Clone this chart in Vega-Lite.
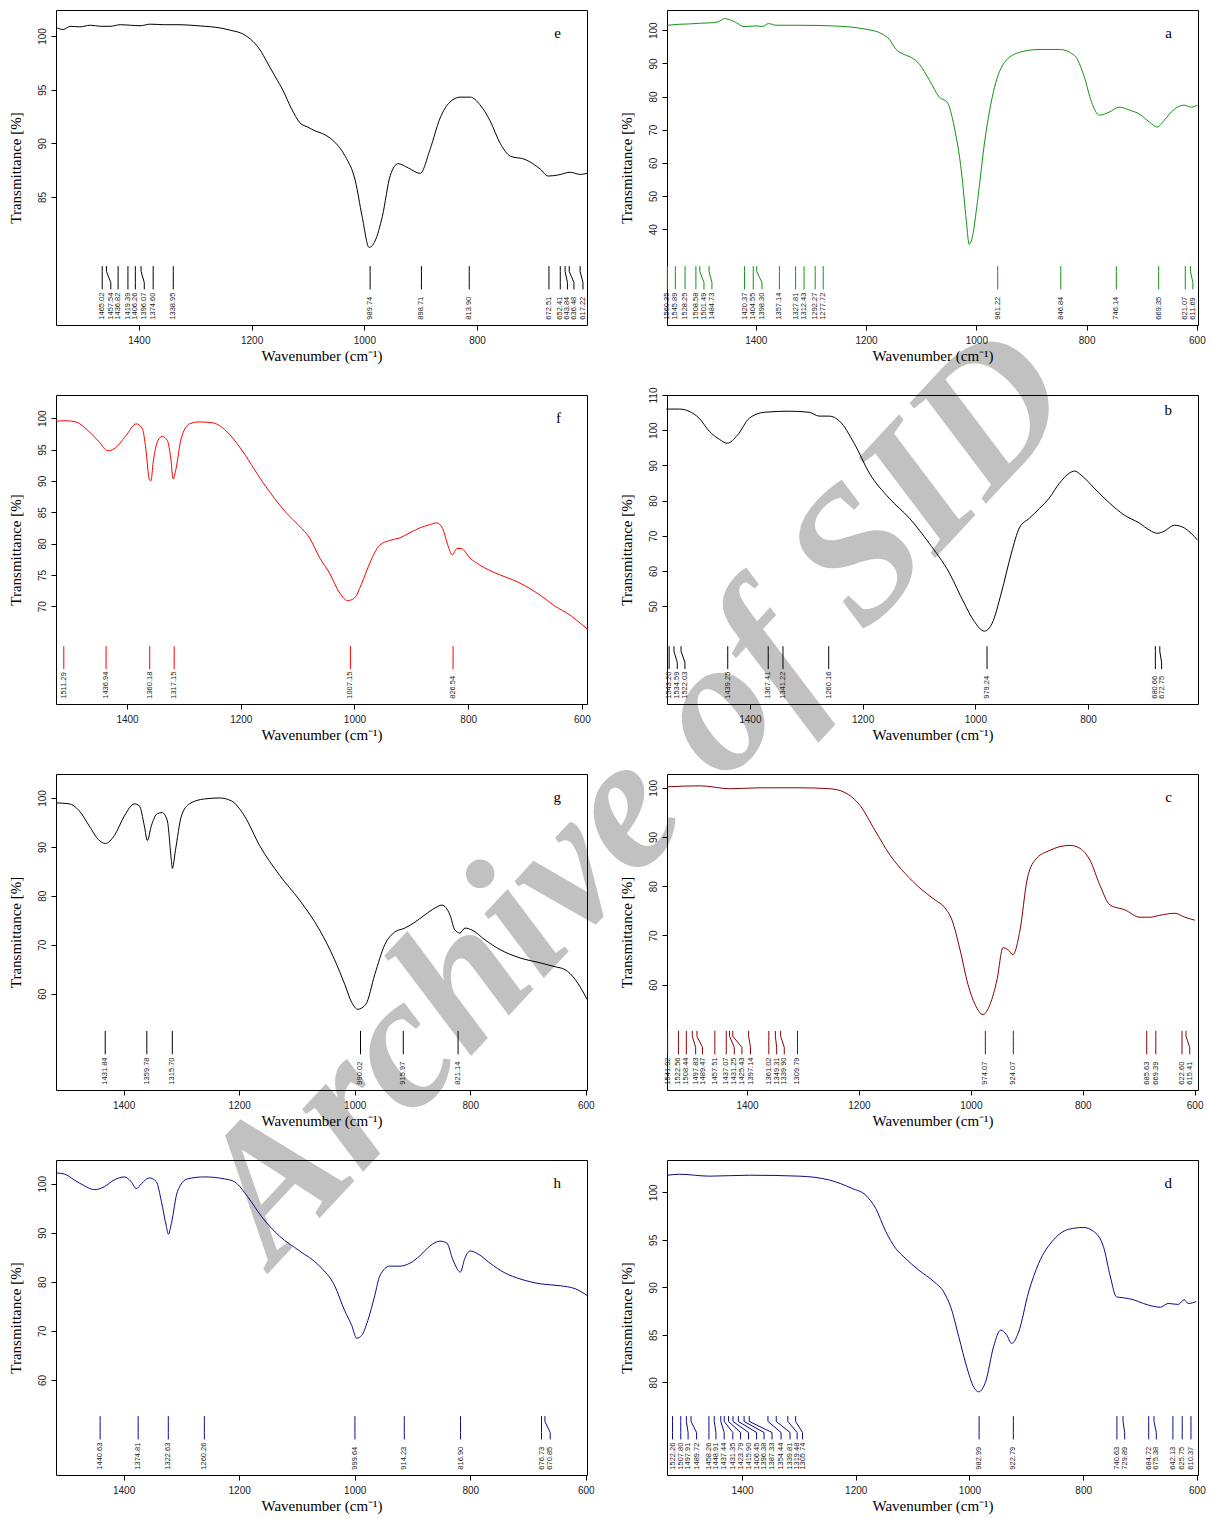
{
"$schema": "https://vega.github.io/schema/vega-lite/v6.json",
"background": "white",
"padding": {"left": 7, "top": 9, "right": 5, "bottom": 5},
"bounds": "flush",
"columns": 2,
"spacing": {"row": 70, "column": 80},
"config": {
 "view": {"stroke": "#000", "strokeWidth": 1},
 "axis": {"domain": false, "grid": false, "tickSize": 5, "tickColor": "#000", "labelFont": "Liberation Sans", "labelFontSize": 10, "labelColor": "#222", "labelFlush": false, "labelOverlap": false, "titleFont": "Liberation Serif", "titleFontSize": 15, "titleFontWeight": "normal", "titleColor": "#000"},
 "axisX": {"labelPadding": 5, "titlePadding": 3},
 "axisY": {"labelAngle": 270, "labelAlign": "center", "labelBaseline": "bottom", "labelPadding": 4, "titlePadding": 14},
 "line": {"interpolate": "monotone"},
 "title": {"anchor": "end", "frame": "group", "offset": -31, "dx": -26, "font": "Liberation Serif", "fontSize": 15, "fontWeight": "normal", "color": "#000"}
},
"datasets": {
 "e": [{"wn":1545,"T":100.75},{"wn":1534,"T":100.6},{"wn":1522,"T":100.9},{"wn":1505,"T":100.85},{"wn":1486,"T":101.0},{"wn":1468,"T":100.9},{"wn":1451,"T":100.9},{"wn":1433,"T":101.05},{"wn":1415,"T":101.0},{"wn":1398,"T":100.95},{"wn":1380,"T":101.1},{"wn":1355,"T":101.05},{"wn":1327,"T":101.05},{"wn":1291,"T":100.93},{"wn":1256,"T":100.75},{"wn":1235,"T":100.5},{"wn":1220,"T":100.3},{"wn":1202,"T":99.7},{"wn":1185,"T":98.7},{"wn":1173,"T":97.6},{"wn":1158,"T":96.2},{"wn":1144,"T":94.9},{"wn":1130,"T":93.3},{"wn":1114,"T":91.9},{"wn":1100,"T":91.5},{"wn":1087,"T":91.15},{"wn":1074,"T":90.9},{"wn":1061,"T":90.5},{"wn":1047,"T":89.8},{"wn":1034,"T":88.8},{"wn":1016,"T":86.5},{"wn":1004,"T":83.2},{"wn":991.5,"T":80.3},{"wn":981,"T":80.9},{"wn":968,"T":83.2},{"wn":954,"T":87.0},{"wn":940,"T":88.1},{"wn":922,"T":87.7},{"wn":901,"T":87.2},{"wn":883,"T":89.5},{"wn":866,"T":92.3},{"wn":848,"T":93.85},{"wn":830,"T":94.3},{"wn":812,"T":94.3},{"wn":795,"T":93.6},{"wn":777,"T":92.1},{"wn":759,"T":90.0},{"wn":741,"T":88.8},{"wn":715,"T":88.5},{"wn":688,"T":87.6},{"wn":674,"T":86.95},{"wn":656,"T":87.05},{"wn":635,"T":87.3},{"wn":617,"T":87.1},{"wn":605,"T":87.2}],
 "a": [{"wn":1560,"T":101.5},{"wn":1539,"T":101.8},{"wn":1520,"T":101.9},{"wn":1502,"T":102.1},{"wn":1475,"T":102.3},{"wn":1465,"T":102.8},{"wn":1457,"T":103.5},{"wn":1448,"T":103.2},{"wn":1439,"T":102.6},{"wn":1421,"T":101.1},{"wn":1410,"T":101.2},{"wn":1400,"T":101.3},{"wn":1388,"T":101.1},{"wn":1377,"T":102.0},{"wn":1363,"T":101.5},{"wn":1321,"T":101.5},{"wn":1261,"T":101.3},{"wn":1200,"T":100.3},{"wn":1170,"T":98.8},{"wn":1158,"T":97.3},{"wn":1146,"T":94.3},{"wn":1131,"T":92.7},{"wn":1118,"T":91.8},{"wn":1103,"T":89.7},{"wn":1085,"T":84.9},{"wn":1067,"T":79.8},{"wn":1053,"T":78.3},{"wn":1040,"T":70.8},{"wn":1027,"T":57.3},{"wn":1018,"T":42.3},{"wn":1013,"T":35.4},{"wn":1007,"T":37.8},{"wn":998,"T":48.3},{"wn":985,"T":66.3},{"wn":967,"T":82.8},{"wn":949,"T":90.3},{"wn":922,"T":93.3},{"wn":886,"T":94.2},{"wn":849,"T":94.2},{"wn":822,"T":92.4},{"wn":804,"T":85.8},{"wn":791,"T":78.3},{"wn":777,"T":74.4},{"wn":759,"T":75.3},{"wn":741,"T":76.8},{"wn":722,"T":75.9},{"wn":704,"T":74.7},{"wn":686,"T":72.3},{"wn":672,"T":70.8},{"wn":659,"T":72.9},{"wn":641,"T":76.2},{"wn":623,"T":77.4},{"wn":610,"T":76.8},{"wn":599,"T":77.4}],
 "f": [{"wn":1525,"T":99.5},{"wn":1508,"T":99.6},{"wn":1490,"T":99.4},{"wn":1472,"T":98.3},{"wn":1449,"T":96.2},{"wn":1434,"T":94.8},{"wn":1423,"T":95.1},{"wn":1402,"T":97.2},{"wn":1384,"T":99.1},{"wn":1373,"T":98.3},{"wn":1367,"T":95.1},{"wn":1361,"T":90.3},{"wn":1358,"T":90.0},{"wn":1354,"T":93.0},{"wn":1346,"T":96.4},{"wn":1338,"T":97.1},{"wn":1329,"T":96.4},{"wn":1323,"T":93.5},{"wn":1319,"T":90.3},{"wn":1314,"T":91.9},{"wn":1305,"T":96.7},{"wn":1290,"T":99.1},{"wn":1273,"T":99.4},{"wn":1249,"T":99.25},{"wn":1226,"T":98.0},{"wn":1202,"T":95.4},{"wn":1161,"T":89.75},{"wn":1120,"T":84.9},{"wn":1097,"T":82.8},{"wn":1079,"T":80.9},{"wn":1061,"T":77.7},{"wn":1044,"T":75.3},{"wn":1026,"T":72.1},{"wn":1012,"T":70.9},{"wn":1000,"T":71.3},{"wn":987,"T":73.7},{"wn":973,"T":76.9},{"wn":956,"T":79.7},{"wn":938,"T":80.5},{"wn":920,"T":80.9},{"wn":903,"T":81.7},{"wn":885,"T":82.5},{"wn":868,"T":83.0},{"wn":855,"T":83.3},{"wn":845,"T":82.4},{"wn":836,"T":79.8},{"wn":828,"T":78.2},{"wn":820,"T":79.2},{"wn":812,"T":79.2},{"wn":797,"T":77.7},{"wn":780,"T":76.6},{"wn":762,"T":75.7},{"wn":744,"T":75.0},{"wn":709,"T":73.7},{"wn":674,"T":71.8},{"wn":647,"T":70.0},{"wn":621,"T":68.6},{"wn":603,"T":67.3},{"wn":591,"T":66.4}],
 "b": [{"wn":1548,"T":106},{"wn":1525,"T":106},{"wn":1508,"T":105.4},{"wn":1490,"T":103.4},{"wn":1472,"T":99.7},{"wn":1454,"T":97.4},{"wn":1440,"T":96.3},{"wn":1422,"T":98.6},{"wn":1401,"T":103.4},{"wn":1374,"T":105.1},{"wn":1330,"T":105.4},{"wn":1295,"T":105.1},{"wn":1277,"T":104.0},{"wn":1259,"T":104.0},{"wn":1241,"T":102.6},{"wn":1215,"T":96.3},{"wn":1188,"T":87.8},{"wn":1153,"T":80.7},{"wn":1117,"T":75.0},{"wn":1082,"T":67.9},{"wn":1046,"T":59.4},{"wn":1020,"T":50.9},{"wn":1002,"T":45.7},{"wn":984,"T":42.9},{"wn":970,"T":45.2},{"wn":954,"T":53.7},{"wn":936,"T":65.1},{"wn":922,"T":72.2},{"wn":904,"T":75.0},{"wn":886,"T":77.8},{"wn":869,"T":80.7},{"wn":851,"T":84.9},{"wn":833,"T":87.8},{"wn":824,"T":88.4},{"wn":812,"T":87.2},{"wn":789,"T":83.5},{"wn":762,"T":79.3},{"wn":736,"T":75.9},{"wn":709,"T":73.6},{"wn":691,"T":71.6},{"wn":677,"T":70.7},{"wn":665,"T":71.3},{"wn":647,"T":73.0},{"wn":629,"T":72.2},{"wn":606,"T":68.8}],
 "g": [{"wn":1516.7,"T":99.0},{"wn":1494.2,"T":98.8},{"wn":1476.9,"T":97.4},{"wn":1459.5,"T":94.3},{"wn":1442.1,"T":91.3},{"wn":1431.7,"T":90.7},{"wn":1416.1,"T":92.3},{"wn":1398.8,"T":96.3},{"wn":1381.4,"T":98.8},{"wn":1372.8,"T":98.4},{"wn":1364.1,"T":94.3},{"wn":1358.9,"T":91.3},{"wn":1352,"T":94.3},{"wn":1341.6,"T":96.8},{"wn":1332.9,"T":97.0},{"wn":1324.3,"T":95.3},{"wn":1317.3,"T":87.2},{"wn":1315.6,"T":85.6},{"wn":1310.4,"T":89.2},{"wn":1300,"T":96.3},{"wn":1286.1,"T":98.8},{"wn":1260.1,"T":99.8},{"wn":1234.1,"T":100.0},{"wn":1213.3,"T":99.4},{"wn":1190.7,"T":96.3},{"wn":1164.7,"T":90.3},{"wn":1130,"T":84.2},{"wn":1095.4,"T":79.1},{"wn":1060.7,"T":73.0},{"wn":1034.7,"T":66.9},{"wn":1017.3,"T":61.9},{"wn":1005.2,"T":58.2},{"wn":994.8,"T":56.8},{"wn":980.9,"T":57.8},{"wn":965.3,"T":63.9},{"wn":948,"T":70.0},{"wn":930.6,"T":72.6},{"wn":913.3,"T":73.4},{"wn":895.9,"T":74.6},{"wn":878.6,"T":76.1},{"wn":861.2,"T":77.5},{"wn":849.1,"T":78.1},{"wn":835.2,"T":76.1},{"wn":826.6,"T":73.0},{"wn":817.9,"T":72.4},{"wn":809.2,"T":73.4},{"wn":797.1,"T":73.0},{"wn":774.6,"T":71.0},{"wn":748.5,"T":69.0},{"wn":713.9,"T":67.3},{"wn":679.2,"T":66.3},{"wn":653.2,"T":65.5},{"wn":635.9,"T":64.9},{"wn":618.5,"T":62.9},{"wn":597.7,"T":58.8}],
 "c": [{"wn":1542.5,"T":100.2},{"wn":1483.6,"T":100.4},{"wn":1430,"T":99.8},{"wn":1376.4,"T":100},{"wn":1305,"T":100},{"wn":1251.4,"T":99.8},{"wn":1224.6,"T":99.0},{"wn":1197.9,"T":96.4},{"wn":1171.1,"T":91.3},{"wn":1144.3,"T":86.3},{"wn":1117.5,"T":82.6},{"wn":1090.7,"T":79.6},{"wn":1063.9,"T":77.2},{"wn":1046.1,"T":75.6},{"wn":1033.6,"T":73.1},{"wn":1019.3,"T":67.1},{"wn":1005,"T":60.0},{"wn":992.5,"T":56.0},{"wn":978.2,"T":53.9},{"wn":965.7,"T":56.0},{"wn":953.2,"T":61.0},{"wn":942.5,"T":67.5},{"wn":933.6,"T":67.1},{"wn":924.6,"T":66.1},{"wn":912.1,"T":71.1},{"wn":899.6,"T":81.2},{"wn":885.4,"T":85.3},{"wn":858.6,"T":87.3},{"wn":822.9,"T":88.3},{"wn":805,"T":87.7},{"wn":787.1,"T":85.3},{"wn":769.3,"T":80.2},{"wn":751.4,"T":76.2},{"wn":724.6,"T":75.2},{"wn":697.9,"T":73.7},{"wn":680,"T":73.7},{"wn":662.1,"T":74.1},{"wn":635.4,"T":74.5},{"wn":617.5,"T":73.7},{"wn":599.6,"T":73.1}],
 "h": [{"wn":1516.7,"T":102.2},{"wn":1502.8,"T":102.0},{"wn":1485.5,"T":100.8},{"wn":1468.2,"T":99.6},{"wn":1450.8,"T":98.8},{"wn":1433.5,"T":99.4},{"wn":1416.1,"T":100.8},{"wn":1398.8,"T":101.4},{"wn":1386.7,"T":100.4},{"wn":1378,"T":99.0},{"wn":1369.3,"T":100.0},{"wn":1355.4,"T":101.2},{"wn":1343.3,"T":100.4},{"wn":1334.6,"T":96.4},{"wn":1326,"T":91.3},{"wn":1322.5,"T":89.7},{"wn":1317.3,"T":91.9},{"wn":1306.9,"T":98.4},{"wn":1289.5,"T":101.0},{"wn":1260.1,"T":101.4},{"wn":1225.4,"T":101.0},{"wn":1208,"T":100.4},{"wn":1185.5,"T":97.4},{"wn":1161.2,"T":93.3},{"wn":1130,"T":89.3},{"wn":1095.4,"T":86.3},{"wn":1060.7,"T":83.2},{"wn":1034.7,"T":79.2},{"wn":1017.3,"T":74.1},{"wn":1005.2,"T":71.1},{"wn":996.5,"T":68.5},{"wn":987.8,"T":69.1},{"wn":977.4,"T":72.1},{"wn":965.3,"T":77.2},{"wn":956.6,"T":81.2},{"wn":939.3,"T":83.2},{"wn":922,"T":83.2},{"wn":904.6,"T":83.8},{"wn":887.3,"T":85.3},{"wn":870,"T":87.3},{"wn":852.6,"T":88.3},{"wn":840.5,"T":87.9},{"wn":830.1,"T":84.5},{"wn":817,"T":82.0},{"wn":810,"T":84.6},{"wn":800.6,"T":86.3},{"wn":786.7,"T":85.7},{"wn":765.9,"T":83.8},{"wn":739.9,"T":81.8},{"wn":713.9,"T":80.6},{"wn":679.2,"T":79.6},{"wn":644.5,"T":79.2},{"wn":618.5,"T":78.6},{"wn":597.7,"T":77.2}],
 "d": [{"wn":1530.5,"T":101.8},{"wn":1510,"T":101.9},{"wn":1457.4,"T":101.7},{"wn":1387.2,"T":101.8},{"wn":1299.5,"T":101.7},{"wn":1246.8,"T":101.3},{"wn":1206,"T":100.4},{"wn":1182.5,"T":99.7},{"wn":1164.9,"T":98.3},{"wn":1147.4,"T":95.9},{"wn":1129.8,"T":94.1},{"wn":1115.3,"T":93.2},{"wn":1089,"T":91.8},{"wn":1062.6,"T":90.6},{"wn":1045.1,"T":89.5},{"wn":1032.8,"T":87.9},{"wn":1018.8,"T":84.8},{"wn":1004.7,"T":81.6},{"wn":992.5,"T":79.5},{"wn":983.7,"T":79.0},{"wn":971.4,"T":80.1},{"wn":957.4,"T":83.8},{"wn":945.1,"T":85.5},{"wn":934.6,"T":85.0},{"wn":925.8,"T":84.1},{"wn":913.5,"T":85.3},{"wn":896,"T":89.5},{"wn":878.4,"T":92.5},{"wn":852.1,"T":95.0},{"wn":825.8,"T":96.1},{"wn":799.5,"T":96.3},{"wn":782,"T":95.9},{"wn":764.4,"T":94.3},{"wn":752.1,"T":91.1},{"wn":741.6,"T":89.0},{"wn":729.3,"T":88.9},{"wn":711.8,"T":88.7},{"wn":694.2,"T":88.3},{"wn":676.7,"T":88.0},{"wn":664.4,"T":87.9},{"wn":650.4,"T":88.3},{"wn":632.8,"T":88.2},{"wn":622.3,"T":88.7},{"wn":615.3,"T":88.3},{"wn":601.2,"T":88.5}],
 "pe": [{"wn":1465.02,"lx":1465.02},{"wn":1457.54,"lx":1449.8},{"wn":1436.82,"lx":1436.82},{"wn":1419.39,"lx":1419.39},{"wn":1406.26,"lx":1406.26},{"wn":1396.07,"lx":1390.4},{"wn":1374.60,"lx":1374.60},{"wn":1338.95,"lx":1338.95},{"wn":989.74,"lx":989.74},{"wn":898.71,"lx":898.71},{"wn":813.90,"lx":813.90},{"wn":672.51,"lx":672.51},{"wn":652.41,"lx":652.41},{"wn":643.84,"lx":639.7},{"wn":636.48,"lx":628.2},{"wn":617.22,"lx":612.2}],
 "pa": [{"wn":1560.35,"lx":1560.35},{"wn":1545.89,"lx":1545.89},{"wn":1528.25,"lx":1528.25},{"wn":1508.58,"lx":1508.58},{"wn":1501.49,"lx":1494.0},{"wn":1484.73,"lx":1479.5},{"wn":1420.37,"lx":1420.37},{"wn":1404.55,"lx":1404.55},{"wn":1398.30,"lx":1388.7},{"wn":1357.14,"lx":1357.14},{"wn":1327.81,"lx":1327.81},{"wn":1312.43,"lx":1312.43},{"wn":1292.27,"lx":1292.27},{"wn":1277.72,"lx":1277.72},{"wn":961.22,"lx":961.22},{"wn":846.84,"lx":846.84},{"wn":746.14,"lx":746.14},{"wn":669.35,"lx":669.35},{"wn":621.07,"lx":621.07},{"wn":611.69,"lx":607.3}],
 "pf": [{"wn":1511.29,"lx":1511.29},{"wn":1436.94,"lx":1436.94},{"wn":1360.18,"lx":1360.18},{"wn":1317.15,"lx":1317.15},{"wn":1007.15,"lx":1007.15},{"wn":826.54,"lx":826.54}],
 "pb": [{"wn":1543.20,"lx":1543.20},{"wn":1534.59,"lx":1528.8},{"wn":1522.03,"lx":1515.2},{"wn":1439.25,"lx":1439.25},{"wn":1367.41,"lx":1367.41},{"wn":1341.22,"lx":1341.22},{"wn":1260.16,"lx":1260.16},{"wn":979.24,"lx":979.24},{"wn":680.66,"lx":680.66},{"wn":672.75,"lx":669.6}],
 "pg": [{"wn":1431.84,"lx":1431.84},{"wn":1359.78,"lx":1359.78},{"wn":1315.70,"lx":1315.70},{"wn":990.02,"lx":990.02},{"wn":915.97,"lx":915.97},{"wn":821.14,"lx":821.14}],
 "pc": [{"wn":1541.92,"lx":1541.92},{"wn":1522.56,"lx":1522.56},{"wn":1508.44,"lx":1508.44},{"wn":1497.83,"lx":1491.8},{"wn":1489.47,"lx":1479.5},{"wn":1457.51,"lx":1457.51},{"wn":1437.07,"lx":1437.07},{"wn":1431.25,"lx":1422.7},{"wn":1425.43,"lx":1409.1},{"wn":1397.14,"lx":1393.75},{"wn":1361.02,"lx":1361.02},{"wn":1349.31,"lx":1347.0},{"wn":1339.90,"lx":1333.4},{"wn":1309.79,"lx":1309.79},{"wn":974.07,"lx":974.07},{"wn":924.07,"lx":924.07},{"wn":685.63,"lx":685.63},{"wn":669.39,"lx":669.39},{"wn":622.60,"lx":622.60},{"wn":615.41,"lx":608.8}],
 "ph": [{"wn":1440.63,"lx":1440.63},{"wn":1374.81,"lx":1374.81},{"wn":1322.63,"lx":1322.63},{"wn":1260.26,"lx":1260.26},{"wn":999.64,"lx":999.64},{"wn":914.23,"lx":914.23},{"wn":816.90,"lx":816.90},{"wn":676.73,"lx":676.73},{"wn":670.85,"lx":661.7}],
 "pd": [{"wn":1522.26,"lx":1522.26},{"wn":1507.80,"lx":1507.80},{"wn":1497.91,"lx":1494.9},{"wn":1489.72,"lx":1480.0},{"wn":1458.26,"lx":1458.26},{"wn":1448.91,"lx":1445.9},{"wn":1437.44,"lx":1431.4},{"wn":1431.35,"lx":1416.2},{"wn":1423.79,"lx":1402.6},{"wn":1415.90,"lx":1388.6},{"wn":1406.45,"lx":1374.4},{"wn":1396.38,"lx":1361.3},{"wn":1387.33,"lx":1347.3},{"wn":1354.44,"lx":1331.4},{"wn":1339.81,"lx":1315.6},{"wn":1319.48,"lx":1303.1},{"wn":1305.74,"lx":1293.6},{"wn":982.99,"lx":982.99},{"wn":922.79,"lx":922.79},{"wn":740.63,"lx":740.63},{"wn":729.89,"lx":727.0},{"wn":684.72,"lx":684.72},{"wn":675.38,"lx":671.4},{"wn":642.13,"lx":642.13},{"wn":625.75,"lx":625.75},{"wn":610.37,"lx":610.37}]
},
"concat": [
 {"width": 531, "height": 315, "title": "e", "resolve": {"scale": {"y": "independent"}},
  "layer": [
   {"data": {"name": "e"}, "mark": {"type": "line", "color": "#000", "strokeWidth": 1},
    "encoding": {"x": {"field": "wn", "type": "quantitative", "title": "Wavenumber (cm⁻¹)", "scale": {"domain": [605, 1547], "reverse": true, "nice": false, "zero": false}, "axis": {"values": [1400, 1200, 1000, 800], "format": "d"}},
     "y": {"field": "T", "type": "quantitative", "title": "Transmittance [%]", "scale": {"domain": [73.07, 102.42], "nice": false, "zero": false}, "axis": {"values": [85, 90, 95, 100]}}}},
   {"data": {"name": "pe"}, "mark": {"type": "rule", "color": "#000", "strokeWidth": 1}, "encoding": {"x": {"field": "wn", "type": "quantitative"}, "y": {"datum": 0.187, "scale": {"domain": [0, 1]}, "axis": null}, "y2": {"datum": 0.17}}},
   {"data": {"name": "pe"}, "mark": {"type": "rule", "color": "#000", "strokeWidth": 1}, "encoding": {"x": {"field": "wn", "type": "quantitative"}, "x2": {"field": "lx"}, "y": {"datum": 0.17, "scale": {"domain": [0, 1]}, "axis": null}, "y2": {"datum": 0.135}}},
   {"data": {"name": "pe"}, "mark": {"type": "rule", "color": "#000", "strokeWidth": 1}, "encoding": {"x": {"field": "lx", "type": "quantitative"}, "y": {"datum": 0.135, "scale": {"domain": [0, 1]}, "axis": null}, "y2": {"datum": 0.113}}},
   {"data": {"name": "pe"}, "mark": {"type": "text", "angle": 270, "align": "left", "baseline": "middle", "fontSize": 7.5, "font": "Liberation Sans", "color": "#222"}, "encoding": {"x": {"field": "lx", "type": "quantitative"}, "y": {"datum": 0.017, "scale": {"domain": [0, 1]}, "axis": null}, "text": {"field": "wn", "type": "quantitative", "format": ".2f"}}},
   {"data": {"values": [{"t": "Archive of SID"}]}, "mark": {"type": "text", "angle": 313, "align": "center", "baseline": "middle", "fontSize": 190, "font": "Liberation Serif", "fontStyle": "italic", "fontWeight": "bold", "color": "#999999", "opacity": 0.6}, "encoding": {"x": {"datum": 519}, "y": {"datum": -1.495, "scale": {"domain": [0, 1]}, "axis": null}, "text": {"field": "t"}}}
  ]},
 {"width": 531, "height": 315, "title": "a", "resolve": {"scale": {"y": "independent"}},
  "layer": [
   {"data": {"name": "a"}, "mark": {"type": "line", "color": "#129312", "strokeWidth": 1},
    "encoding": {"x": {"field": "wn", "type": "quantitative", "title": "Wavenumber (cm⁻¹)", "scale": {"domain": [598, 1561], "reverse": true, "nice": false, "zero": false}, "axis": {"values": [1400, 1200, 1000, 800, 600], "format": "d"}},
     "y": {"field": "T", "type": "quantitative", "title": "Transmittance [%]", "scale": {"domain": [11.1, 106.1], "nice": false, "zero": false}, "axis": {"values": [40, 50, 60, 70, 80, 90, 100]}}}},
   {"data": {"name": "pa"}, "mark": {"type": "rule", "color": "#129312", "strokeWidth": 1}, "encoding": {"x": {"field": "wn", "type": "quantitative"}, "y": {"datum": 0.187, "scale": {"domain": [0, 1]}, "axis": null}, "y2": {"datum": 0.17}}},
   {"data": {"name": "pa"}, "mark": {"type": "rule", "color": "#129312", "strokeWidth": 1}, "encoding": {"x": {"field": "wn", "type": "quantitative"}, "x2": {"field": "lx"}, "y": {"datum": 0.17, "scale": {"domain": [0, 1]}, "axis": null}, "y2": {"datum": 0.135}}},
   {"data": {"name": "pa"}, "mark": {"type": "rule", "color": "#129312", "strokeWidth": 1}, "encoding": {"x": {"field": "lx", "type": "quantitative"}, "y": {"datum": 0.135, "scale": {"domain": [0, 1]}, "axis": null}, "y2": {"datum": 0.113}}},
   {"data": {"name": "pa"}, "mark": {"type": "text", "angle": 270, "align": "left", "baseline": "middle", "fontSize": 7.5, "font": "Liberation Sans", "color": "#222"}, "encoding": {"x": {"field": "lx", "type": "quantitative"}, "y": {"datum": 0.017, "scale": {"domain": [0, 1]}, "axis": null}, "text": {"field": "wn", "type": "quantitative", "format": ".2f"}}}
  ]},
 {"width": 531, "height": 309, "title": "f", "resolve": {"scale": {"y": "independent"}},
  "layer": [
   {"data": {"name": "f"}, "mark": {"type": "line", "color": "#ff0000", "strokeWidth": 1},
    "encoding": {"x": {"field": "wn", "type": "quantitative", "title": "Wavenumber (cm⁻¹)", "scale": {"domain": [591, 1525], "reverse": true, "nice": false, "zero": false}, "axis": {"values": [1400, 1200, 1000, 800, 600], "format": "d"}},
     "y": {"field": "T", "type": "quantitative", "title": "Transmittance [%]", "scale": {"domain": [54.4, 103.7], "nice": false, "zero": false}, "axis": {"values": [70, 75, 80, 85, 90, 95, 100]}}}},
   {"data": {"name": "pf"}, "mark": {"type": "rule", "color": "#ff0000", "strokeWidth": 1}, "encoding": {"x": {"field": "wn", "type": "quantitative"}, "y": {"datum": 0.187, "scale": {"domain": [0, 1]}, "axis": null}, "y2": {"datum": 0.113}}},
   {"data": {"name": "pf"}, "mark": {"type": "text", "angle": 270, "align": "left", "baseline": "middle", "fontSize": 7.5, "font": "Liberation Sans", "color": "#222"}, "encoding": {"x": {"field": "lx", "type": "quantitative"}, "y": {"datum": 0.017, "scale": {"domain": [0, 1]}, "axis": null}, "text": {"field": "wn", "type": "quantitative", "format": ".2f"}}}
  ]},
 {"width": 531, "height": 309, "title": "b", "resolve": {"scale": {"y": "independent"}},
  "layer": [
   {"data": {"name": "b"}, "mark": {"type": "line", "color": "#000", "strokeWidth": 1},
    "encoding": {"x": {"field": "wn", "type": "quantitative", "title": "Wavenumber (cm⁻¹)", "scale": {"domain": [605, 1547], "reverse": true, "nice": false, "zero": false}, "axis": {"values": [1400, 1200, 1000, 800], "format": "d"}},
     "y": {"field": "T", "type": "quantitative", "title": "Transmittance [%]", "scale": {"domain": [22.2, 110], "nice": false, "zero": false}, "axis": {"values": [50, 60, 70, 80, 90, 100, 110]}}}},
   {"data": {"name": "pb"}, "mark": {"type": "rule", "color": "#000", "strokeWidth": 1}, "encoding": {"x": {"field": "wn", "type": "quantitative"}, "y": {"datum": 0.187, "scale": {"domain": [0, 1]}, "axis": null}, "y2": {"datum": 0.17}}},
   {"data": {"name": "pb"}, "mark": {"type": "rule", "color": "#000", "strokeWidth": 1}, "encoding": {"x": {"field": "wn", "type": "quantitative"}, "x2": {"field": "lx"}, "y": {"datum": 0.17, "scale": {"domain": [0, 1]}, "axis": null}, "y2": {"datum": 0.135}}},
   {"data": {"name": "pb"}, "mark": {"type": "rule", "color": "#000", "strokeWidth": 1}, "encoding": {"x": {"field": "lx", "type": "quantitative"}, "y": {"datum": 0.135, "scale": {"domain": [0, 1]}, "axis": null}, "y2": {"datum": 0.113}}},
   {"data": {"name": "pb"}, "mark": {"type": "text", "angle": 270, "align": "left", "baseline": "middle", "fontSize": 7.5, "font": "Liberation Sans", "color": "#222"}, "encoding": {"x": {"field": "lx", "type": "quantitative"}, "y": {"datum": 0.017, "scale": {"domain": [0, 1]}, "axis": null}, "text": {"field": "wn", "type": "quantitative", "format": ".2f"}}}
  ]},
 {"width": 531, "height": 316, "title": "g", "resolve": {"scale": {"y": "independent"}},
  "layer": [
   {"data": {"name": "g"}, "mark": {"type": "line", "color": "#000", "strokeWidth": 1},
    "encoding": {"x": {"field": "wn", "type": "quantitative", "title": "Wavenumber (cm⁻¹)", "scale": {"domain": [598, 1517], "reverse": true, "nice": false, "zero": false}, "axis": {"values": [1400, 1200, 1000, 800, 600], "format": "d"}},
     "y": {"field": "T", "type": "quantitative", "title": "Transmittance [%]", "scale": {"domain": [40.3, 104.9], "nice": false, "zero": false}, "axis": {"values": [60, 70, 80, 90, 100]}}}},
   {"data": {"name": "pg"}, "mark": {"type": "rule", "color": "#000", "strokeWidth": 1}, "encoding": {"x": {"field": "wn", "type": "quantitative"}, "y": {"datum": 0.187, "scale": {"domain": [0, 1]}, "axis": null}, "y2": {"datum": 0.113}}},
   {"data": {"name": "pg"}, "mark": {"type": "text", "angle": 270, "align": "left", "baseline": "middle", "fontSize": 7.5, "font": "Liberation Sans", "color": "#222"}, "encoding": {"x": {"field": "lx", "type": "quantitative"}, "y": {"datum": 0.017, "scale": {"domain": [0, 1]}, "axis": null}, "text": {"field": "wn", "type": "quantitative", "format": ".2f"}}}
  ]},
 {"width": 531, "height": 316, "title": "c", "resolve": {"scale": {"y": "independent"}},
  "layer": [
   {"data": {"name": "c"}, "mark": {"type": "line", "color": "#8b0000", "strokeWidth": 1},
    "encoding": {"x": {"field": "wn", "type": "quantitative", "title": "Wavenumber (cm⁻¹)", "scale": {"domain": [594, 1543], "reverse": true, "nice": false, "zero": false}, "axis": {"values": [1400, 1200, 1000, 800, 600], "format": "d"}},
     "y": {"field": "T", "type": "quantitative", "title": "Transmittance [%]", "scale": {"domain": [38.6, 102.8], "nice": false, "zero": false}, "axis": {"values": [60, 70, 80, 90, 100]}}}},
   {"data": {"name": "pc"}, "mark": {"type": "rule", "color": "#8b0000", "strokeWidth": 1}, "encoding": {"x": {"field": "wn", "type": "quantitative"}, "y": {"datum": 0.187, "scale": {"domain": [0, 1]}, "axis": null}, "y2": {"datum": 0.17}}},
   {"data": {"name": "pc"}, "mark": {"type": "rule", "color": "#8b0000", "strokeWidth": 1}, "encoding": {"x": {"field": "wn", "type": "quantitative"}, "x2": {"field": "lx"}, "y": {"datum": 0.17, "scale": {"domain": [0, 1]}, "axis": null}, "y2": {"datum": 0.135}}},
   {"data": {"name": "pc"}, "mark": {"type": "rule", "color": "#8b0000", "strokeWidth": 1}, "encoding": {"x": {"field": "lx", "type": "quantitative"}, "y": {"datum": 0.135, "scale": {"domain": [0, 1]}, "axis": null}, "y2": {"datum": 0.113}}},
   {"data": {"name": "pc"}, "mark": {"type": "text", "angle": 270, "align": "left", "baseline": "middle", "fontSize": 7.5, "font": "Liberation Sans", "color": "#222"}, "encoding": {"x": {"field": "lx", "type": "quantitative"}, "y": {"datum": 0.017, "scale": {"domain": [0, 1]}, "axis": null}, "text": {"field": "wn", "type": "quantitative", "format": ".2f"}}}
  ]},
 {"width": 531, "height": 315, "title": "h", "resolve": {"scale": {"y": "independent"}},
  "layer": [
   {"data": {"name": "h"}, "mark": {"type": "line", "color": "#0a0a8c", "strokeWidth": 1},
    "encoding": {"x": {"field": "wn", "type": "quantitative", "title": "Wavenumber (cm⁻¹)", "scale": {"domain": [598, 1517], "reverse": true, "nice": false, "zero": false}, "axis": {"values": [1400, 1200, 1000, 800, 600], "format": "d"}},
     "y": {"field": "T", "type": "quantitative", "title": "Transmittance [%]", "scale": {"domain": [40.6, 104.85], "nice": false, "zero": false}, "axis": {"values": [60, 70, 80, 90, 100]}}}},
   {"data": {"name": "ph"}, "mark": {"type": "rule", "color": "#0a0a8c", "strokeWidth": 1}, "encoding": {"x": {"field": "wn", "type": "quantitative"}, "y": {"datum": 0.187, "scale": {"domain": [0, 1]}, "axis": null}, "y2": {"datum": 0.17}}},
   {"data": {"name": "ph"}, "mark": {"type": "rule", "color": "#0a0a8c", "strokeWidth": 1}, "encoding": {"x": {"field": "wn", "type": "quantitative"}, "x2": {"field": "lx"}, "y": {"datum": 0.17, "scale": {"domain": [0, 1]}, "axis": null}, "y2": {"datum": 0.135}}},
   {"data": {"name": "ph"}, "mark": {"type": "rule", "color": "#0a0a8c", "strokeWidth": 1}, "encoding": {"x": {"field": "lx", "type": "quantitative"}, "y": {"datum": 0.135, "scale": {"domain": [0, 1]}, "axis": null}, "y2": {"datum": 0.113}}},
   {"data": {"name": "ph"}, "mark": {"type": "text", "angle": 270, "align": "left", "baseline": "middle", "fontSize": 7.5, "font": "Liberation Sans", "color": "#222"}, "encoding": {"x": {"field": "lx", "type": "quantitative"}, "y": {"datum": 0.017, "scale": {"domain": [0, 1]}, "axis": null}, "text": {"field": "wn", "type": "quantitative", "format": ".2f"}}}
  ]},
 {"width": 531, "height": 315, "title": "d", "resolve": {"scale": {"y": "independent"}},
  "layer": [
   {"data": {"name": "d"}, "mark": {"type": "line", "color": "#0a0a8c", "strokeWidth": 1},
    "encoding": {"x": {"field": "wn", "type": "quantitative", "title": "Wavenumber (cm⁻¹)", "scale": {"domain": [598, 1532], "reverse": true, "nice": false, "zero": false}, "axis": {"values": [1400, 1200, 1000, 800, 600], "format": "d"}},
     "y": {"field": "T", "type": "quantitative", "title": "Transmittance [%]", "scale": {"domain": [70.25, 103.4], "nice": false, "zero": false}, "axis": {"values": [80, 85, 90, 95, 100]}}}},
   {"data": {"name": "pd"}, "mark": {"type": "rule", "color": "#0a0a8c", "strokeWidth": 1}, "encoding": {"x": {"field": "wn", "type": "quantitative"}, "y": {"datum": 0.187, "scale": {"domain": [0, 1]}, "axis": null}, "y2": {"datum": 0.17}}},
   {"data": {"name": "pd"}, "mark": {"type": "rule", "color": "#0a0a8c", "strokeWidth": 1}, "encoding": {"x": {"field": "wn", "type": "quantitative"}, "x2": {"field": "lx"}, "y": {"datum": 0.17, "scale": {"domain": [0, 1]}, "axis": null}, "y2": {"datum": 0.135}}},
   {"data": {"name": "pd"}, "mark": {"type": "rule", "color": "#0a0a8c", "strokeWidth": 1}, "encoding": {"x": {"field": "lx", "type": "quantitative"}, "y": {"datum": 0.135, "scale": {"domain": [0, 1]}, "axis": null}, "y2": {"datum": 0.113}}},
   {"data": {"name": "pd"}, "mark": {"type": "text", "angle": 270, "align": "left", "baseline": "middle", "fontSize": 7.5, "font": "Liberation Sans", "color": "#222"}, "encoding": {"x": {"field": "lx", "type": "quantitative"}, "y": {"datum": 0.017, "scale": {"domain": [0, 1]}, "axis": null}, "text": {"field": "wn", "type": "quantitative", "format": ".2f"}}}
  ]}
]
}
